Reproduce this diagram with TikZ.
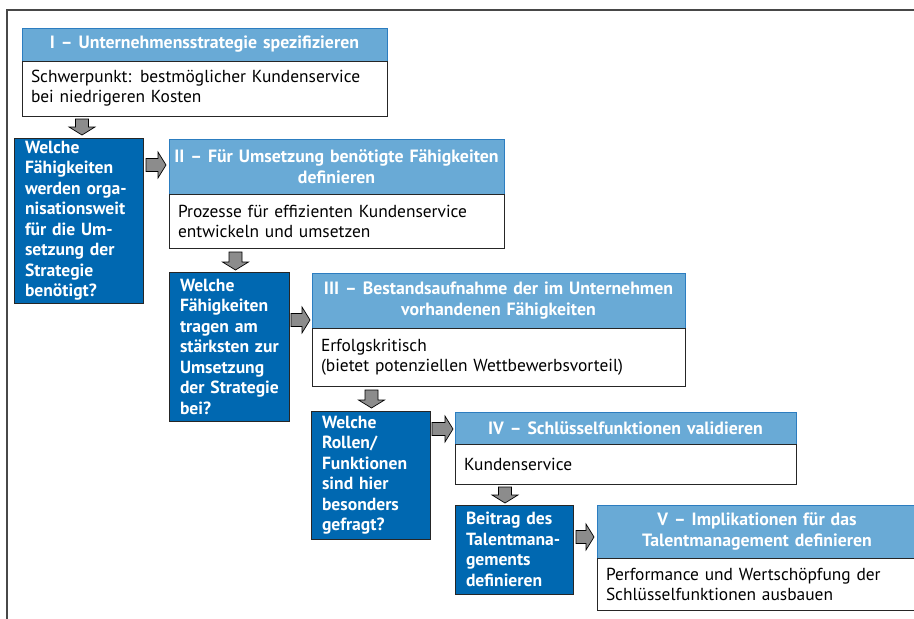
\documentclass[tikz,border=0pt]{standalone}
\usepackage{fontspec}
\setmainfont{PT Sans}
\usetikzlibrary{positioning,calc}

\definecolor{hdrblue}{HTML}{69AAD6}
\definecolor{hdrline}{HTML}{2C7DC0}
\definecolor{qblue}{HTML}{0068B1}
\definecolor{arrgray}{HTML}{8C8C8C}
\definecolor{framegray}{HTML}{484848}

\newcommand{\boxfont}{\fontsize{17.4}{20}\selectfont}
\newcommand{\hdrfont}{\fontsize{17.8}{21.5}\selectfont\bfseries}
\newcommand{\questfont}{\fontsize{17.6}{20.5}\selectfont\bfseries}
\hyphenpenalty=10000
\exhyphenpenalty=10000

\tikzset{
  hdr/.style={anchor=north west, draw=hdrline, fill=hdrblue, text=white,
    font=\hdrfont, align=center, inner xsep=4pt, inner ysep=0pt,
    outer sep=0pt, line width=0.8pt},
  body/.style={draw=black!85, fill=white, font=\boxfont, align=left,
    inner xsep=9pt, inner ysep=0pt, outer sep=0pt, line width=0.8pt},
  quest/.style={anchor=north west, draw=black!85, fill=qblue, text=white,
    font=\questfont, align=left, inner xsep=11pt, inner ysep=0pt,
    outer sep=0pt, line width=0.8pt},
  fat/.style={draw=black, fill=arrgray, line width=0.7pt, line join=miter,
    to path={let \p1=(\tikztostart), \p2=(\tikztotarget),
      \p3=($(\p2)!8pt!(\p1)$) in
      ($(\p1)!6.5pt!90:(\p2)$) -- ($(\p3)!6.5pt!90:(\p2)$)
      -- ($(\p3)!13pt!90:(\p2)$) -- (\p2) -- ($(\p3)!13pt!-90:(\p2)$)
      -- ($(\p3)!6.5pt!-90:(\p2)$) -- ($(\p1)!6.5pt!-90:(\p2)$) -- cycle}}
}

\begin{document}
\begin{tikzpicture}[x=1pt, y=-1pt]
  \useasboundingbox (0,0) rectangle (914,619);

  % outer frame, runs off the right and bottom edges
  \draw[framegray, line width=1.6pt] (7,640) -- (7,10) -- (940,10);

  % step I
  \node[hdr, minimum width=365pt, text width=357pt, minimum height=33pt] (H1) at (22,28)
    {I – Unternehmensstrategie spezifizieren};
  \node[body, below=0pt of H1, minimum width=365pt, text width=347pt, minimum height=55pt] (B1)
    {Schwerpunkt: bestmöglicher Kundenservice\\bei niedrigeren Kosten};
  \node[quest, minimum width=129pt, text width=107pt, minimum height=165pt] (Q1) at (14,138)
    {Welche\\Fähigkeiten\\werden~orga-\\nisationsweit\\für~die~Um-\\setzung~der\\Strategie\\benötigt?};

  % step II
  \node[hdr, minimum width=335pt, text width=327pt, minimum height=55pt] (H2) at (169,139)
    {II – Für Umsetzung benötigte Fähigkeiten\\definieren};
  \node[body, below=0pt of H2, minimum width=335pt, text width=317pt, minimum height=54pt] (B2)
    {Prozesse für effizienten Kundenservice\\entwickeln und umsetzen};
  \node[quest, minimum width=120pt, text width=98pt, minimum height=149pt] (Q2) at (169,272)
    {Welche\\Fähigkeiten\\tragen~am\\stärksten~zur\\Umsetzung\\der~Strategie\\bei?};

  % step III
  \node[hdr, minimum width=373pt, text width=365pt, minimum height=55pt] (H3) at (312,273)
    {III – Bestandsaufnahme der im Unternehmen\\vorhandenen Fähigkeiten};
  \node[body, below=0pt of H3, minimum width=373pt, text width=355pt, minimum height=58pt] (B3)
    {Erfolgskritisch\\(bietet potenziellen Wettbewerbsvorteil)};
  \node[quest, minimum width=119pt, text width=97pt, minimum height=128pt] (Q3) at (311,411)
    {Welche\\Rollen/\\Funktionen\\sind~hier\\besonders\\gefragt?};

  % step IV
  \node[hdr, minimum width=341pt, text width=333pt, minimum height=32pt] (H4) at (455,412)
    {IV – Schlüsselfunktionen validieren};
  \node[body, below=0pt of H4, minimum width=341pt, text width=323pt, minimum height=40pt] (B4)
    {Kundenservice};
  \node[quest, minimum width=118pt, text width=96pt, minimum height=89pt] (Q4) at (455,505)
    {Beitrag~des\\Talentmana-\\gements\\definieren};

  % step V (cut at the right edge)
  \node[hdr, minimum width=320pt, text width=312pt, minimum height=53pt] (H5) at (597,505)
    {V – Implikationen für das\\Talentmanagement definieren};
  \node[body, below=0pt of H5, minimum width=320pt, text width=302pt, minimum height=52pt] (B5)
    {Performance und Wertschöpfung der\\Schlüsselfunktionen ausbauen};

  % arrows down
  \draw[fat] ($(B1.south -| Q1.north)+(3.5,3)$) to ($(Q1.north)+(3.5,-3)$);
  \draw[fat] ($(B2.south -| Q2.north)+(6.5,4)$) to ($(Q2.north)+(6.5,-2)$);
  \draw[fat] ($(B3.south -| Q3.north)+(1,4)$) to ($(Q3.north)+(1,-3)$);
  \draw[fat] ($(B4.south -| Q4.north)+(-9,3)$) to ($(Q4.north)+(-9,-2)$);

  % arrows right
  \coordinate (r1) at ($(Q1.north east)+(3,27)$);
  \coordinate (r2) at ($(Q2.north east)+(2,48)$);
  \coordinate (r3) at ($(Q3.north east)+(2,18)$);
  \coordinate (r4) at ($(Q4.north east)+(3,32)$);
  \draw[fat] (r1) to ($(r1 -| H2.west)+(-3,0)$);
  \draw[fat] (r2) to ($(r2 -| H3.west)+(-2,0)$);
  \draw[fat] (r3) to ($(r3 -| H4.west)+(-2,0)$);
  \draw[fat] (r4) to ($(r4 -| H5.west)+(-3,0)$);
\end{tikzpicture}
\end{document}
